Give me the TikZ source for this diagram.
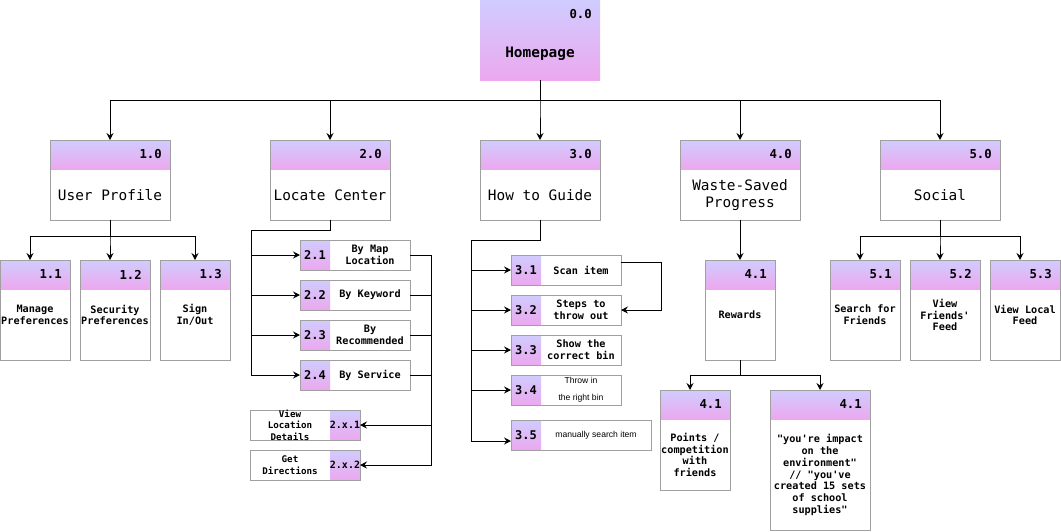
\documentclass[tikz,border=0pt]{standalone}
\usepackage{fontspec}
\setmonofont{DejaVu Sans Mono}
\newfontfamily\plainsans{Liberation Sans}
\usetikzlibrary{arrows.meta,calc}

\definecolor{gtop}{RGB}{208,204,255}
\definecolor{gbot}{RGB}{236,168,238}
\definecolor{edge}{RGB}{160,160,160}

\tikzset{
  card/.style={rectangle, fill=white, draw=none, inner sep=0pt, outer sep=0pt, anchor=north west},
  band/.style={rectangle, top color=gtop, bottom color=gbot, draw=none, inner sep=0pt, outer sep=0pt, anchor=north west},
  rim/.style={draw=edge, line width=0.9pt},
  wire/.style={draw=black, line width=1pt},
  arr/.style={wire, -{Stealth[length=7pt,width=7pt,inset=2.5pt]}},
  numlbl/.style={font=\ttfamily\bfseries\fontsize{12.3}{14}\selectfont, inner sep=0pt},
  hnum/.style={font=\ttfamily\bfseries\fontsize{12}{14}\selectfont, inner sep=0pt},
  hnumsm/.style={font=\ttfamily\bfseries\fontsize{10}{12}\selectfont, inner sep=0pt},
  ttl/.style={font=\ttfamily\fontsize{14.4}{17}\selectfont, align=center, inner sep=0pt},
  ttlbold/.style={font=\ttfamily\bfseries\fontsize{14.4}{17}\selectfont, align=center, inner sep=0pt},
  sml/.style={font=\ttfamily\bfseries\fontsize{10.2}{11.7}\selectfont, align=center, inner sep=0pt},
  hsml/.style={font=\ttfamily\bfseries\fontsize{10.2}{11.7}\selectfont, align=center, inner sep=0pt},
  detl/.style={font=\ttfamily\bfseries\fontsize{9.2}{11.5}\selectfont, align=center, inner sep=0pt},
  thin/.style={font=\plainsans\fontsize{8.6}{17}\selectfont, align=center, inner sep=0pt},
}

% card with a shaded header band on top
% #1 name, #2 x, #3 y, #4 width, #5 height, #6 number, #7 text, #8 text style, #9 text offset from top
\newcommand{\cardV}[9]{%
  \node[card, minimum width=#4pt, minimum height=#5pt] (#1) at (#2,#3) {};
  \node[band, minimum width=#4pt, minimum height=29pt] (#1h) at (#1.north west) {};
  \draw[rim] (#1.north west) rectangle (#1.south east);
  \node[numlbl, anchor=east] (#1n) at ([xshift=-8pt]#1h.east) {#6};
  \node[#8] (#1t) at ($(#1.north)+(0,#9)$) {#7};
}

% flat card with the shaded band on the left
% #1 name, #2 x, #3 y, #4 width, #5 number, #6 text, #7 text style
\newcommand{\cardL}[7]{%
  \node[card, minimum width=#4pt, minimum height=30pt] (#1) at (#2,#3) {};
  \node[band, minimum width=30pt, minimum height=30pt] (#1h) at (#1.north west) {};
  \draw[rim] (#1.north west) rectangle (#1.south east);
  \node[hnum] (#1n) at (#1h.center) {#5};
  \node[#7] (#1t) at ($(#1h.east)!0.5!(#1.east)$) {#6};
}

% flat card with the shaded band on the right
\newcommand{\cardR}[7]{%
  \node[card, minimum width=#4pt, minimum height=30pt] (#1) at (#2,#3) {};
  \node[band, anchor=north east, minimum width=30pt, minimum height=30pt] (#1h) at (#1.north east) {};
  \draw[rim] (#1.north west) rectangle (#1.south east);
  \node[hnumsm] (#1n) at (#1h.center) {#5};
  \node[#7] (#1t) at ($(#1.west)!0.5!(#1h.west)$) {#6};
}

\begin{document}
\begin{tikzpicture}[x=1pt, y=-1pt]
\useasboundingbox (0,0) rectangle (1061,531);
\fill[white] (0,0) rectangle (1061,531);

% root
\node[band, minimum width=120pt, minimum height=80pt] (home) at (480,0) {};
\node[numlbl, anchor=east] (homen) at ([xshift=-8pt,yshift=-14pt]home.north east) {0.0};
\node[ttlbold] (homet) at ($(home.north)+(0,54)$) {Homepage};

% first level
\cardV{n10}{50}{140}{120}{80}{1.0}{User Profile}{ttl}{55}
\cardV{n20}{270}{140}{120}{80}{2.0}{Locate Center}{ttl}{55}
\cardV{n30}{480}{140}{120}{80}{3.0}{How to Guide}{ttl}{55}
\cardV{n40}{680}{140}{120}{80}{4.0}{Waste-Saved\\Progress}{ttl}{55}
\cardV{n50}{880}{140}{120}{80}{5.0}{Social}{ttl}{55}

% user profile
\cardV{n11}{0}{260}{70}{100}{1.1}{Manage\\Preferences}{sml}{55}
\cardV{n12}{80}{260}{70}{100}{1.2}{Security\\Preferences}{sml}{55}
\cardV{n13}{160}{260}{70}{100}{1.3}{Sign\\In/Out}{sml}{55}

% locate center
\cardL{n21}{300}{240}{110}{2.1}{By Map\\Location}{hsml}
\cardL{n22}{300}{280}{110}{2.2}{By Keyword}{hsml}
\cardL{n23}{300}{320}{110}{2.3}{By\\Recommended}{hsml}
\cardL{n24}{300}{360}{110}{2.4}{By Service}{hsml}
\cardR{n25}{250}{410}{110}{2.x.1}{View\\Location\\Details}{detl}
\cardR{n26}{250}{450}{110}{2.x.2}{Get\\Directions}{detl}

% how to guide
\cardL{n31}{511}{255}{110}{3.1}{Scan item}{hsml}
\cardL{n32}{511}{295}{110}{3.2}{Steps to\\throw out}{hsml}
\cardL{n33}{511}{335}{110}{3.3}{Show the\\correct bin}{hsml}
\cardL{n34}{511}{375}{110}{3.4}{Throw in\\the right bin}{thin}
\cardL{n35}{511}{420}{140}{3.5}{manually search item}{thin}

% waste-saved progress
\cardV{n41}{705}{260}{70}{100}{4.1}{Rewards}{sml}{55}
\cardV{n42}{660}{390}{70}{100}{4.1}{Points /\\competition\\with\\friends}{sml}{65}
\cardV{n43}{770}{390}{100}{140}{4.1}{"you're impact\\on the\\environment"\\// "you've\\created 15 sets\\of school\\supplies"}{sml}{85}

% social
\cardV{n51}{830}{260}{70}{100}{5.1}{Search for\\Friends}{sml}{55}
\cardV{n52}{910}{260}{70}{100}{5.2}{View\\Friends'\\Feed}{sml}{55}
\cardV{n53}{990}{260}{70}{100}{5.3}{View Local\\Feed}{sml}{55}

% root to first level
\foreach \k in {10,20,30,40,50}
  \draw[arr] (home.south) -- ++(0,20) -| (n\k.north);

% user profile branch
\draw[arr] (n10.south) -- ++(0,16) -| ([xshift=-5pt]n11.north);
\draw[arr] (n10.south) -- ++(0,16) -| ([xshift=-5pt]n12.north);
\draw[arr] (n10.south) -- ++(0,16) -| (n13.north);

% locate center branch
\coordinate (j2) at (251,230);
\draw[wire] (n20.south) |- (j2);
\foreach \k in {21,22,23,24}
  \draw[arr] (j2) |- (n\k.west);
\coordinate (r2) at (431,255);
\draw[wire] (n21.east) -- (r2);
\foreach \k in {22,23,24}
  \draw[wire] (n\k.east) -- (n\k.east -| r2);
\draw[arr] (r2) |- (n26.east);
\draw[arr] (n25.east -| r2) -- (n25.east);

% how to guide branch
\coordinate (j3) at (471,240);
\draw[wire] (n30.south) |- (j3);
\foreach \k in {31,32,33,34}
  \draw[arr] (j3) |- (n\k.west);
\draw[arr] (j3) |- ([yshift=-6pt]n35.west);
\draw[arr] ([yshift=8pt]n31.east) -- ++(40,0) |- (n32.east);

% waste-saved branch
\draw[arr] (n40.south) -- (n41.north);
\draw[arr] (n41.south) -- ++(0,15) -| ([xshift=-5pt]n42.north);
\draw[arr] (n41.south) -- ++(0,15) -| (n43.north);

% social branch
\draw[arr] (n50.south) -- ++(0,16) -| ([xshift=-5pt]n51.north);
\draw[arr] (n50.south) -- ++(0,16) -| ([xshift=-5pt]n52.north);
\draw[arr] (n50.south) -- ++(0,16) -| ([xshift=-5pt]n53.north);
\end{tikzpicture}
\end{document}
